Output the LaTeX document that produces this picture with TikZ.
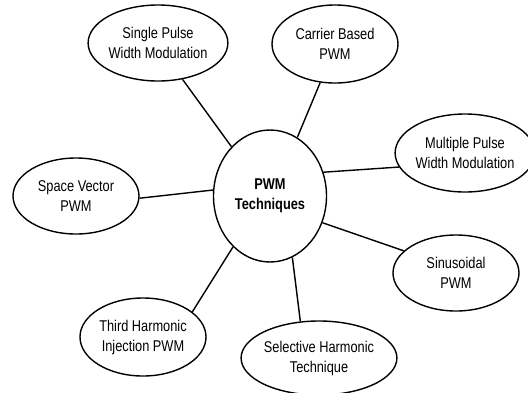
\documentclass[tikz,border=0pt]{standalone}
\usepackage{fontspec}
\setmainfont{Liberation Sans}[FakeStretch=0.82]
\usetikzlibrary{shapes.geometric}
\tikzset{every path/.style={black,line width=1.4pt}, technique/.style={ellipse, draw, line width=1.4pt, minimum width=126pt, minimum height=76pt, inner sep=0pt, align=center, font=\fontsize{15.6}{20}\selectfont}}
\tikzset{hub/.style={technique, minimum width=113pt, minimum height=132pt, font=\fontsize{15.6}{20}\selectfont\bfseries}}

\begin{document}
\begin{tikzpicture}[x=1pt,y=-1pt]
   \useasboundingbox (0,0) rectangle (528,392);
   \node[hub] (pwm) at (270,196) {PWM\\Techniques};
   \node[technique] (single) at (158,43) {Single Pulse\\Width Modulation};
   \node[technique, minimum height=78pt] (carrier) at (335,44) {Carrier Based\\PWM};
   \node[technique, minimum width=124pt, minimum height=78pt] (multiple) at (465,153) {Multiple Pulse\\Width Modulation};
   \node[technique] (space) at (76,196) {Space Vector\\PWM};
   \node[technique] (sine) at (456,273) {Sinusoidal\\PWM};
   \node[technique, minimum height=78pt] (third) at (143,337) {Third Harmonic\\Injection PWM};
   \node[technique, minimum height=74pt] (selective) at (319,358) {Selective Harmonic\\Technique};
   % spokes
   \draw (pwm.128.5) -- (single.-56.7);
   \draw (pwm.65) -- (carrier.249);
   \draw (pwm.24.8) -- (multiple.192);
   \draw (pwm.174) -- (space.-2.7);
   \draw (pwm.-27.4) -- (sine.157.8);
   \draw (pwm.234.4) -- (third.27);
   \draw (pwm.-70.7) -- (selective.117.9);
  \end{tikzpicture}
\end{document}
